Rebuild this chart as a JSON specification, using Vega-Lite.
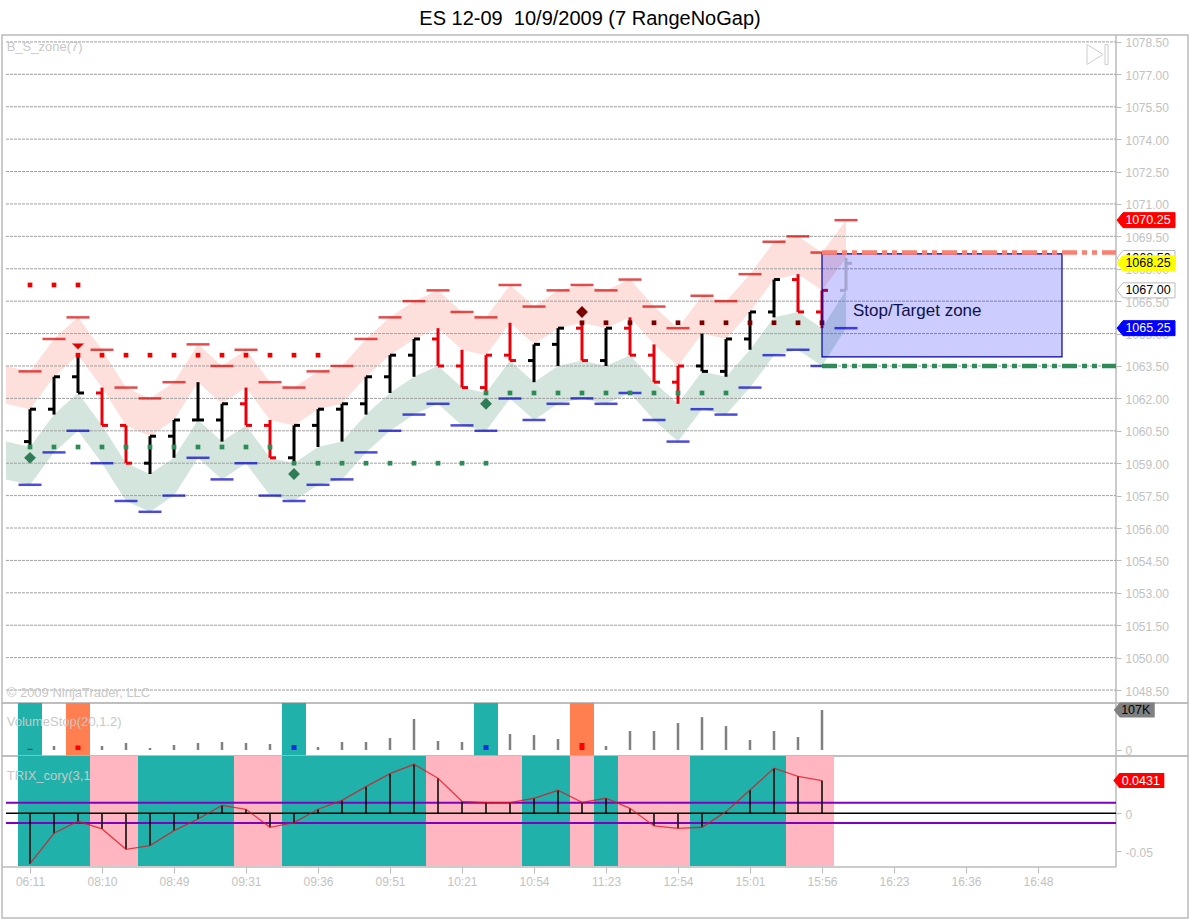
{
  "$schema": "https://vega.github.io/schema/vega-lite/v6.json",
  "title": {"text": "ES 12-09 \u00a010/9/2009 (7 RangeNoGap)", "fontSize": 20, "fontWeight": "normal", "font": "Liberation Sans", "color": "#000000", "anchor": "middle", "frame": "group", "offset": 5, "dx": -5},
  "background": "white",
  "padding": {"left": 0, "top": 8, "right": 0, "bottom": 0},
  "spacing": 0,
  "bounds": "flush",
  "config": {
    "font": "Liberation Sans",
    "view": {"stroke": "#bbbbbb", "strokeWidth": 1.5},
    "axis": {"title": null, "grid": false, "domain": false, "tickColor": "#bbbbbb", "labelColor": "#c2c2c2", "labelFontSize": 12, "labelFont": "Liberation Sans", "labelOverlap": false, "labelFlush": false, "labelBound": false}
  },
  "datasets": {
    "bars": [
      {"i": 0, "open": 1060, "high": 1061.5, "low": 1059.75, "close": 1061.5, "upper": 1063.25, "lower": 1058, "side": "up"},
      {"i": 1, "open": 1061.5, "high": 1063, "low": 1061.25, "close": 1063, "upper": 1064.75, "lower": 1059.5, "side": "up"},
      {"i": 2, "open": 1063, "high": 1064, "low": 1062.25, "close": 1062.25, "upper": 1065.75, "lower": 1060.5, "side": "up"},
      {"i": 3, "open": 1062.25, "high": 1062.5, "low": 1060.75, "close": 1060.75, "upper": 1064.25, "lower": 1059, "side": "down"},
      {"i": 4, "open": 1060.75, "high": 1060.75, "low": 1059, "close": 1059, "upper": 1062.5, "lower": 1057.25, "side": "down"},
      {"i": 5, "open": 1059, "high": 1060.25, "low": 1058.5, "close": 1060.25, "upper": 1062, "lower": 1056.75, "side": "up"},
      {"i": 6, "open": 1060.25, "high": 1061, "low": 1059.25, "close": 1061, "upper": 1062.75, "lower": 1057.5, "side": "up"},
      {"i": 7, "open": 1061, "high": 1062.75, "low": 1061, "close": 1061, "upper": 1064.5, "lower": 1059.25, "side": "up"},
      {"i": 8, "open": 1061, "high": 1061.75, "low": 1060, "close": 1061.75, "upper": 1063.5, "lower": 1058.25, "side": "up"},
      {"i": 9, "open": 1061.75, "high": 1062.5, "low": 1060.75, "close": 1060.75, "upper": 1064.25, "lower": 1059, "side": "down"},
      {"i": 10, "open": 1060.75, "high": 1061, "low": 1059.25, "close": 1059.25, "upper": 1062.75, "lower": 1057.5, "side": "down"},
      {"i": 11, "open": 1059.25, "high": 1060.75, "low": 1059, "close": 1060.75, "upper": 1062.5, "lower": 1057.25, "side": "up"},
      {"i": 12, "open": 1060.75, "high": 1061.5, "low": 1059.75, "close": 1061.5, "upper": 1063.25, "lower": 1058, "side": "up"},
      {"i": 13, "open": 1061.5, "high": 1061.75, "low": 1060, "close": 1061.75, "upper": 1063.5, "lower": 1058.25, "side": "up"},
      {"i": 14, "open": 1061.75, "high": 1063, "low": 1061.25, "close": 1063, "upper": 1064.75, "lower": 1059.5, "side": "up"},
      {"i": 15, "open": 1063, "high": 1064, "low": 1062.25, "close": 1064, "upper": 1065.75, "lower": 1060.5, "side": "up"},
      {"i": 16, "open": 1064, "high": 1064.75, "low": 1063, "close": 1064.75, "upper": 1066.5, "lower": 1061.25, "side": "up"},
      {"i": 17, "open": 1064.75, "high": 1065.25, "low": 1063.5, "close": 1063.5, "upper": 1067, "lower": 1061.75, "side": "down"},
      {"i": 18, "open": 1063.5, "high": 1064.25, "low": 1062.5, "close": 1062.5, "upper": 1066, "lower": 1060.75, "side": "down"},
      {"i": 19, "open": 1062.5, "high": 1064, "low": 1062.25, "close": 1064, "upper": 1065.75, "lower": 1060.5, "side": "down"},
      {"i": 20, "open": 1064, "high": 1065.5, "low": 1063.75, "close": 1063.75, "upper": 1067.25, "lower": 1062, "side": "down"},
      {"i": 21, "open": 1063.75, "high": 1064.5, "low": 1062.75, "close": 1064.5, "upper": 1066.25, "lower": 1061, "side": "up"},
      {"i": 22, "open": 1064.5, "high": 1065.25, "low": 1063.5, "close": 1065.25, "upper": 1067, "lower": 1061.75, "side": "up"},
      {"i": 23, "open": 1065.25, "high": 1065.5, "low": 1063.75, "close": 1063.75, "upper": 1067.25, "lower": 1062, "side": "down"},
      {"i": 24, "open": 1063.75, "high": 1065.25, "low": 1063.5, "close": 1065.25, "upper": 1067, "lower": 1061.75, "side": "up"},
      {"i": 25, "open": 1065.25, "high": 1065.75, "low": 1064, "close": 1064, "upper": 1067.5, "lower": 1062.25, "side": "down"},
      {"i": 26, "open": 1064, "high": 1064.5, "low": 1062.75, "close": 1062.75, "upper": 1066.25, "lower": 1061, "side": "down"},
      {"i": 27, "open": 1062.75, "high": 1063.5, "low": 1061.75, "close": 1063.5, "upper": 1065.25, "lower": 1060, "side": "down"},
      {"i": 28, "open": 1063.5, "high": 1065, "low": 1063.25, "close": 1063.25, "upper": 1066.75, "lower": 1061.5, "side": "up"},
      {"i": 29, "open": 1063.25, "high": 1064.75, "low": 1063, "close": 1064.75, "upper": 1066.5, "lower": 1061.25, "side": "up"},
      {"i": 30, "open": 1064.75, "high": 1066, "low": 1064.25, "close": 1066, "upper": 1067.75, "lower": 1062.5, "side": "up"},
      {"i": 31, "open": 1066, "high": 1067.5, "low": 1065.75, "close": 1067.5, "upper": 1069.25, "lower": 1064, "side": "up"},
      {"i": 32, "open": 1067.5, "high": 1067.75, "low": 1066, "close": 1066, "upper": 1069.5, "lower": 1064.25, "side": "down"},
      {"i": 33, "open": 1066, "high": 1067, "low": 1065.25, "close": 1067, "upper": 1068.75, "lower": 1063.5, "side": "down"},
      {"i": 34, "open": 1067, "high": 1068.5, "low": 1067, "close": 1068.25, "upper": 1070.25, "lower": 1065.25, "side": "live"}
    ],
    "bands": [
      {"i": -1, "upper": 1063.5, "high": 1061.75, "low": 1060, "lower": 1058.25},
      {"i": 0, "upper": 1063.25, "high": 1061.5, "low": 1059.75, "lower": 1058},
      {"i": 1, "upper": 1064.75, "high": 1063, "low": 1061.25, "lower": 1059.5},
      {"i": 2, "upper": 1065.75, "high": 1064, "low": 1062.25, "lower": 1060.5},
      {"i": 3, "upper": 1064.25, "high": 1062.5, "low": 1060.75, "lower": 1059},
      {"i": 4, "upper": 1062.5, "high": 1060.75, "low": 1059, "lower": 1057.25},
      {"i": 5, "upper": 1062, "high": 1060.25, "low": 1058.5, "lower": 1056.75},
      {"i": 6, "upper": 1062.75, "high": 1061, "low": 1059.25, "lower": 1057.5},
      {"i": 7, "upper": 1064.5, "high": 1062.75, "low": 1061, "lower": 1059.25},
      {"i": 8, "upper": 1063.5, "high": 1061.75, "low": 1060, "lower": 1058.25},
      {"i": 9, "upper": 1064.25, "high": 1062.5, "low": 1060.75, "lower": 1059},
      {"i": 10, "upper": 1062.75, "high": 1061, "low": 1059.25, "lower": 1057.5},
      {"i": 11, "upper": 1062.5, "high": 1060.75, "low": 1059, "lower": 1057.25},
      {"i": 12, "upper": 1063.25, "high": 1061.5, "low": 1059.75, "lower": 1058},
      {"i": 13, "upper": 1063.5, "high": 1061.75, "low": 1060, "lower": 1058.25},
      {"i": 14, "upper": 1064.75, "high": 1063, "low": 1061.25, "lower": 1059.5},
      {"i": 15, "upper": 1065.75, "high": 1064, "low": 1062.25, "lower": 1060.5},
      {"i": 16, "upper": 1066.5, "high": 1064.75, "low": 1063, "lower": 1061.25},
      {"i": 17, "upper": 1067, "high": 1065.25, "low": 1063.5, "lower": 1061.75},
      {"i": 18, "upper": 1066, "high": 1064.25, "low": 1062.5, "lower": 1060.75},
      {"i": 19, "upper": 1065.75, "high": 1064, "low": 1062.25, "lower": 1060.5},
      {"i": 20, "upper": 1067.25, "high": 1065.5, "low": 1063.75, "lower": 1062},
      {"i": 21, "upper": 1066.25, "high": 1064.5, "low": 1062.75, "lower": 1061},
      {"i": 22, "upper": 1067, "high": 1065.25, "low": 1063.5, "lower": 1061.75},
      {"i": 23, "upper": 1067.25, "high": 1065.5, "low": 1063.75, "lower": 1062},
      {"i": 24, "upper": 1067, "high": 1065.25, "low": 1063.5, "lower": 1061.75},
      {"i": 25, "upper": 1067.5, "high": 1065.75, "low": 1064, "lower": 1062.25},
      {"i": 26, "upper": 1066.25, "high": 1064.5, "low": 1062.75, "lower": 1061},
      {"i": 27, "upper": 1065.25, "high": 1063.5, "low": 1061.75, "lower": 1060},
      {"i": 28, "upper": 1066.75, "high": 1065, "low": 1063.25, "lower": 1061.5},
      {"i": 29, "upper": 1066.5, "high": 1064.75, "low": 1063, "lower": 1061.25},
      {"i": 30, "upper": 1067.75, "high": 1066, "low": 1064.25, "lower": 1062.5},
      {"i": 31, "upper": 1069.25, "high": 1067.5, "low": 1065.75, "lower": 1064},
      {"i": 32, "upper": 1069.5, "high": 1067.75, "low": 1066, "lower": 1064.25},
      {"i": 33, "upper": 1068.75, "high": 1067, "low": 1065.25, "lower": 1063.5},
      {"i": 34, "upper": 1070.25, "high": 1068.5, "low": 1067, "lower": 1065.25}
    ],
    "grid": [
      {"price": 1078.5}, {"price": 1077}, {"price": 1075.5}, {"price": 1074}, {"price": 1072.5}, {"price": 1071}, {"price": 1069.5},
      {"price": 1068}, {"price": 1066.5}, {"price": 1065}, {"price": 1063.5}, {"price": 1062}, {"price": 1060.5}, {"price": 1059},
      {"price": 1057.5}, {"price": 1056}, {"price": 1054.5}, {"price": 1053}, {"price": 1051.5}, {"price": 1050}, {"price": 1048.5}
    ],
    "dots": [
      {"i": 0, "price": 1067.25, "kind": "sell"}, {"i": 1, "price": 1067.25, "kind": "sell"}, {"i": 2, "price": 1067.25, "kind": "sell"},
      {"i": 2, "price": 1064, "kind": "sell"}, {"i": 3, "price": 1064, "kind": "sell"}, {"i": 4, "price": 1064, "kind": "sell"},
      {"i": 5, "price": 1064, "kind": "sell"}, {"i": 6, "price": 1064, "kind": "sell"}, {"i": 7, "price": 1064, "kind": "sell"},
      {"i": 8, "price": 1064, "kind": "sell"}, {"i": 9, "price": 1064, "kind": "sell"}, {"i": 10, "price": 1064, "kind": "sell"},
      {"i": 11, "price": 1064, "kind": "sell"}, {"i": 12, "price": 1064, "kind": "sell"},
      {"i": 23, "price": 1065.5, "kind": "sellOld"}, {"i": 24, "price": 1065.5, "kind": "sellOld"}, {"i": 25, "price": 1065.5, "kind": "sellOld"},
      {"i": 26, "price": 1065.5, "kind": "sellOld"}, {"i": 27, "price": 1065.5, "kind": "sellOld"}, {"i": 28, "price": 1065.5, "kind": "sellOld"},
      {"i": 29, "price": 1065.5, "kind": "sellOld"}, {"i": 30, "price": 1065.5, "kind": "sellOld"}, {"i": 31, "price": 1065.5, "kind": "sellOld"},
      {"i": 32, "price": 1065.5, "kind": "sellOld"}, {"i": 33, "price": 1065.5, "kind": "sellOld"},
      {"i": 0, "price": 1059.75, "kind": "buy"}, {"i": 1, "price": 1059.75, "kind": "buy"}, {"i": 2, "price": 1059.75, "kind": "buy"},
      {"i": 3, "price": 1059.75, "kind": "buy"}, {"i": 4, "price": 1059.75, "kind": "buy"}, {"i": 5, "price": 1059.75, "kind": "buy"},
      {"i": 6, "price": 1059.75, "kind": "buy"}, {"i": 7, "price": 1059.75, "kind": "buy"}, {"i": 8, "price": 1059.75, "kind": "buy"},
      {"i": 9, "price": 1059.75, "kind": "buy"}, {"i": 10, "price": 1059.75, "kind": "buy"},
      {"i": 11, "price": 1059, "kind": "buy"}, {"i": 12, "price": 1059, "kind": "buy"}, {"i": 13, "price": 1059, "kind": "buy"},
      {"i": 14, "price": 1059, "kind": "buy"}, {"i": 15, "price": 1059, "kind": "buy"}, {"i": 16, "price": 1059, "kind": "buy"},
      {"i": 17, "price": 1059, "kind": "buy"}, {"i": 18, "price": 1059, "kind": "buy"}, {"i": 19, "price": 1059, "kind": "buy"},
      {"i": 19, "price": 1062.25, "kind": "buy"}, {"i": 20, "price": 1062.25, "kind": "buy"}, {"i": 21, "price": 1062.25, "kind": "buy"},
      {"i": 22, "price": 1062.25, "kind": "buy"}, {"i": 23, "price": 1062.25, "kind": "buy"}, {"i": 24, "price": 1062.25, "kind": "buy"},
      {"i": 25, "price": 1062.25, "kind": "buy"}, {"i": 26, "price": 1062.25, "kind": "buy"}, {"i": 27, "price": 1062.25, "kind": "buy"},
      {"i": 28, "price": 1062.25, "kind": "buy"}, {"i": 29, "price": 1062.25, "kind": "buy"}
    ],
    "signals": [
      {"i": 0, "price": 1059.25, "kind": "buy"},
      {"i": 11, "price": 1058.5, "kind": "buy"},
      {"i": 19, "price": 1061.75, "kind": "buy"},
      {"i": 23, "price": 1066, "kind": "sell"}
    ],
    "arrow": [{"i": 2, "price": 1064.4}],
    "zone": [{"from": 33, "to": 43, "top": 1068.69, "bottom": 1063.92, "label": "Stop/Target zone"}],
    "levels": [
      {"from": 33, "to": 45.25, "price": 1068.75, "kind": "stop"},
      {"from": 33, "to": 45.25, "price": 1063.5, "kind": "target"}
    ],
    "tagsBack": [
      {"price": 1068.5, "label": "1068.50", "kind": "plain"}
    ],
    "tags": [
      {"price": 1070.25, "label": "1070.25", "kind": "high"},
      {"price": 1068.25, "label": "1068.25", "kind": "last"},
      {"price": 1067, "label": "1067.00", "kind": "plain"},
      {"price": 1065.25, "label": "1065.25", "kind": "low"}
    ],
    "volume": [
      {"i": 0, "vol": 3, "flag": "buy"}, {"i": 1, "vol": 10.7, "flag": "none"}, {"i": 2, "vol": 12, "flag": "sell"},
      {"i": 3, "vol": 10.7, "flag": "none"}, {"i": 4, "vol": 18.7, "flag": "none"}, {"i": 5, "vol": 5.4, "flag": "none"},
      {"i": 6, "vol": 13.4, "flag": "none"}, {"i": 7, "vol": 18.7, "flag": "none"}, {"i": 8, "vol": 21.4, "flag": "none"},
      {"i": 9, "vol": 18.7, "flag": "none"}, {"i": 10, "vol": 16, "flag": "none"}, {"i": 11, "vol": 13.4, "flag": "buy"},
      {"i": 12, "vol": 8, "flag": "none"}, {"i": 13, "vol": 21.4, "flag": "none"}, {"i": 14, "vol": 21.4, "flag": "none"},
      {"i": 15, "vol": 32, "flag": "none"}, {"i": 16, "vol": 83, "flag": "none"}, {"i": 17, "vol": 24, "flag": "none"},
      {"i": 18, "vol": 21.4, "flag": "none"}, {"i": 19, "vol": 13.4, "flag": "buy"}, {"i": 20, "vol": 42.8, "flag": "none"},
      {"i": 21, "vol": 40, "flag": "none"}, {"i": 22, "vol": 29.4, "flag": "none"}, {"i": 23, "vol": 18.7, "flag": "sell"},
      {"i": 24, "vol": 10.7, "flag": "none"}, {"i": 25, "vol": 50.8, "flag": "none"}, {"i": 26, "vol": 50.8, "flag": "none"},
      {"i": 27, "vol": 72, "flag": "none"}, {"i": 28, "vol": 88, "flag": "none"}, {"i": 29, "vol": 64, "flag": "none"},
      {"i": 30, "vol": 26.8, "flag": "none"}, {"i": 31, "vol": 50.8, "flag": "none"}, {"i": 32, "vol": 34.8, "flag": "none"},
      {"i": 33, "vol": 107, "flag": "none"}
    ],
    "volumeSpans": [
      {"from": -0.5, "to": 0.5, "state": "buy"},
      {"from": 1.5, "to": 2.5, "state": "sell"},
      {"from": 10.5, "to": 11.5, "state": "buy"},
      {"from": 18.5, "to": 19.5, "state": "buy"},
      {"from": 22.5, "to": 23.5, "state": "sell"}
    ],
    "trix": [
      {"i": 0, "trix": -0.0663}, {"i": 1, "trix": -0.0263}, {"i": 2, "trix": -0.0105}, {"i": 3, "trix": -0.0206},
      {"i": 4, "trix": -0.0474}, {"i": 5, "trix": -0.0426}, {"i": 6, "trix": -0.0228}, {"i": 7, "trix": -0.0075},
      {"i": 8, "trix": 0.0105}, {"i": 9, "trix": 0.0053}, {"i": 10, "trix": -0.0184}, {"i": 11, "trix": -0.0123},
      {"i": 12, "trix": 0.0053}, {"i": 13, "trix": 0.0171}, {"i": 14, "trix": 0.0351}, {"i": 15, "trix": 0.0522},
      {"i": 16, "trix": 0.0645}, {"i": 17, "trix": 0.0461}, {"i": 18, "trix": 0.0158}, {"i": 19, "trix": 0.014},
      {"i": 20, "trix": 0.014}, {"i": 21, "trix": 0.0198}, {"i": 22, "trix": 0.0303}, {"i": 23, "trix": 0.0145},
      {"i": 24, "trix": 0.0198}, {"i": 25, "trix": 0.0066}, {"i": 26, "trix": -0.0167}, {"i": 27, "trix": -0.0198},
      {"i": 28, "trix": -0.0184}, {"i": 29, "trix": 0.0022}, {"i": 30, "trix": 0.0307}, {"i": 31, "trix": 0.0593},
      {"i": 32, "trix": 0.0487}, {"i": 33, "trix": 0.0431}
    ],
    "trixSpans": [
      {"from": -0.5, "to": 2.5, "state": "rising"},
      {"from": 2.5, "to": 4.5, "state": "falling"},
      {"from": 4.5, "to": 8.5, "state": "rising"},
      {"from": 8.5, "to": 10.5, "state": "falling"},
      {"from": 10.5, "to": 16.5, "state": "rising"},
      {"from": 16.5, "to": 20.5, "state": "falling"},
      {"from": 20.5, "to": 22.5, "state": "rising"},
      {"from": 22.5, "to": 23.5, "state": "falling"},
      {"from": 23.5, "to": 24.5, "state": "rising"},
      {"from": 24.5, "to": 27.5, "state": "falling"},
      {"from": 27.5, "to": 31.5, "state": "rising"},
      {"from": 31.5, "to": 33.5, "state": "falling"}
    ],
    "trixBands": [{"value": 0.014}, {"value": -0.0128}],
    "trixZero": [{"value": 0}],
    "edge": [{"top": 0.0754, "bottom": -0.0707}]
  },
  "vconcat": [
    {
      "width": 1186,
      "height": 668,
      "resolve": {"scale": {"color": "independent", "fill": "independent", "stroke": "independent"}},
      "encoding": {
        "x": {"type": "quantitative", "axis": null, "scale": {"domain": [-1.1667, 48.25], "nice": false, "zero": false}},
        "y": {"type": "quantitative", "scale": {"domain": [1047.9, 1078.82], "nice": false, "zero": false},
          "axis": {"orient": "right", "offset": -72, "tickSize": 5, "labelPadding": 4, "labelOffset": 1, "format": ".2f",
            "values": [1078.5, 1077, 1075.5, 1074, 1072.5, 1071, 1069.5, 1068, 1066.5, 1065, 1063.5, 1062, 1060.5, 1059, 1057.5, 1056, 1054.5, 1053, 1051.5, 1050, 1048.5]}}
      },
      "layer": [
        {
          "data": {"name": "edge"},
          "mark": {"type": "rule", "color": "#bbbbbb", "strokeWidth": 1.5},
          "encoding": {"x": {"datum": 45.25}, "y": null}
        },
        {
          "data": {"name": "bands"},
          "mark": {"type": "area", "color": "#fde0dc", "opacity": 1},
          "encoding": {"x": {"field": "i"}, "y": {"field": "upper"}, "y2": {"field": "high"}}
        },
        {
          "data": {"name": "bands"},
          "mark": {"type": "area", "color": "#d3e5dc", "opacity": 1},
          "encoding": {"x": {"field": "i"}, "y": {"field": "low"}, "y2": {"field": "lower"}}
        },
        {
          "data": {"name": "grid"},
          "mark": {"type": "rule", "color": "#a0a0a0", "strokeWidth": 1, "strokeDash": [3, 1]},
          "encoding": {"x": {"datum": -1}, "x2": {"datum": 45.25}, "y": {"field": "price"}}
        },
        {
          "data": {"name": "bars"},
          "mark": {"type": "tick", "orient": "horizontal", "size": 23, "thickness": 2.5, "color": "#d80000"},
          "encoding": {"x": {"field": "i"}, "y": {"field": "upper"}}
        },
        {
          "data": {"name": "bars"},
          "mark": {"type": "tick", "orient": "horizontal", "size": 23, "thickness": 2.5, "color": "#0000c8"},
          "encoding": {"x": {"field": "i"}, "y": {"field": "lower"}}
        },
        {
          "data": {"name": "bars"},
          "mark": {"type": "rule", "strokeWidth": 3},
          "encoding": {
            "x": {"field": "i"},
            "y": {"field": "high"},
            "y2": {"field": "low"},
            "color": {"field": "side", "type": "nominal", "legend": null, "scale": {"domain": ["up", "down", "live"], "range": ["#000000", "#e8000b", "#cecec0"]}}
          }
        },
        {
          "data": {"name": "bars"},
          "mark": {"type": "rule", "strokeWidth": 3, "x2Offset": -6},
          "encoding": {
            "x": {"field": "i"},
            "x2": {"field": "i"},
            "y": {"field": "open"},
            "color": {"field": "side", "type": "nominal", "legend": null, "scale": {"domain": ["up", "down", "live"], "range": ["#000000", "#e8000b", "#cecec0"]}}
          }
        },
        {
          "data": {"name": "bars"},
          "mark": {"type": "rule", "strokeWidth": 3, "x2Offset": 6},
          "encoding": {
            "x": {"field": "i"},
            "x2": {"field": "i"},
            "y": {"field": "close"},
            "color": {"field": "side", "type": "nominal", "legend": null, "scale": {"domain": ["up", "down", "live"], "range": ["#000000", "#e8000b", "#cecec0"]}}
          }
        },
        {
          "data": {"name": "dots"},
          "mark": {"type": "point", "shape": "square", "filled": true, "size": 22, "opacity": 1},
          "encoding": {
            "x": {"field": "i"},
            "y": {"field": "price"},
            "color": {"field": "kind", "type": "nominal", "legend": null, "scale": {"domain": ["sell", "sellOld", "buy"], "range": ["#f00000", "#7a0000", "#2e8b57"]}}
          }
        },
        {
          "data": {"name": "signals"},
          "mark": {"type": "point", "shape": "diamond", "filled": true, "size": 140, "opacity": 1},
          "encoding": {
            "x": {"field": "i"},
            "y": {"field": "price"},
            "color": {"field": "kind", "type": "nominal", "legend": null, "scale": {"domain": ["buy", "sell"], "range": ["#2e7d57", "#7a0000"]}}
          }
        },
        {
          "data": {"name": "arrow"},
          "mark": {"type": "point", "shape": "M-6,-3H6L0,3Z", "filled": true, "size": 4, "opacity": 1, "fill": "#e00000", "stroke": "#999999", "strokeWidth": 0.5},
          "encoding": {"x": {"field": "i"}, "y": {"field": "price"}}
        },
        {
          "data": {"name": "zone"},
          "mark": {"type": "rect", "fill": "#0000ff", "fillOpacity": 0.2, "stroke": "#0000a0", "strokeWidth": 1.2},
          "encoding": {
            "x": {"field": "from"},
            "x2": {"field": "to"},
            "y": {"field": "top"},
            "y2": {"field": "bottom"}
          }
        },
        {
          "data": {"name": "levels"},
          "mark": {"type": "rule", "strokeWidth": 4.5, "strokeDash": [15, 5, 5, 5, 5, 5]},
          "encoding": {
            "x": {"field": "from"},
            "x2": {"field": "to"},
            "y": {"field": "price"},
            "color": {"field": "kind", "type": "nominal", "legend": null, "scale": {"domain": ["stop", "target"], "range": ["#fa8072", "#2e8b57"]}}
          }
        },
        {
          "data": {"name": "zone"},
          "mark": {"type": "text", "align": "left", "baseline": "middle", "fontSize": 17, "color": "#10104a"},
          "encoding": {
            "x": {"datum": 34.29},
            "y": {"datum": 1066.05},
            "text": {"field": "label"}
          }
        },
        {
          "data": {"values": [{"label": "B_S_zone(7)", "price": 1078.27}, {"label": "© 2009 NinjaTrader, LLC", "price": 1048.38}]},
          "mark": {"type": "text", "align": "left", "baseline": "middle", "fontSize": 13, "color": "#c8c8c8"},
          "encoding": {
            "x": {"datum": -0.97},
            "y": {"field": "price"},
            "text": {"field": "label"}
          }
        },
        {
          "data": {"values": [{"price": 1077.92}]},
          "mark": {"type": "point", "shape": "M-10,-10L6,0L-10,10ZM8,-10H11V10H8Z", "size": 4, "filled": false, "opacity": 1, "stroke": "#cccccc", "strokeWidth": 1},
          "encoding": {"x": {"datum": 44.46}, "y": {"field": "price"}}
        },
        {
          "data": {"name": "tagsBack"},
          "mark": {"type": "point", "shape": "M-29,0L-23,-7.5H29V7.5H-23Z", "size": 4, "filled": true, "opacity": 1, "strokeWidth": 1, "fill": "#ffffff", "stroke": "#bbbbbb"},
          "encoding": {"x": {"datum": 46.5}, "y": {"field": "price"}}
        },
        {
          "data": {"name": "tagsBack"},
          "mark": {"type": "text", "fontSize": 12.5, "align": "center", "baseline": "middle", "dx": 2, "color": "#000000"},
          "encoding": {"x": {"datum": 46.5}, "y": {"field": "price"}, "text": {"field": "label"}}
        },
        {
          "data": {"name": "tags"},
          "mark": {"type": "point", "shape": "M-29,0L-23,-7.5H29V7.5H-23Z", "size": 4, "filled": true, "opacity": 1, "strokeWidth": 1},
          "encoding": {
            "x": {"datum": 46.5},
            "y": {"field": "price"},
            "fill": {"field": "kind", "type": "nominal", "legend": null, "scale": {"domain": ["high", "plain", "last", "low"], "range": ["#ff0000", "#ffffff", "#ffff00", "#0000ff"]}},
            "stroke": {"field": "kind", "type": "nominal", "legend": null, "scale": {"domain": ["high", "plain", "last", "low"], "range": ["#ff0000", "#bbbbbb", "#ffff00", "#0000ff"]}}
          }
        },
        {
          "data": {"name": "tags"},
          "mark": {"type": "text", "fontSize": 12.5, "align": "center", "baseline": "middle", "dx": 2},
          "encoding": {
            "x": {"datum": 46.5},
            "y": {"field": "price"},
            "text": {"field": "label"},
            "color": {"field": "kind", "type": "nominal", "legend": null, "scale": {"domain": ["high", "plain", "last", "low"], "range": ["#ffffff", "#000000", "#000000", "#ffffff"]}}
          }
        }
      ]
    },
    {
      "width": 1186,
      "height": 53,
      "resolve": {"scale": {"color": "independent"}},
      "encoding": {
        "x": {"type": "quantitative", "axis": null, "scale": {"domain": [-1.1667, 48.25], "nice": false, "zero": false}},
        "y": {"type": "quantitative", "scale": {"domain": [-16.05, 125.7], "nice": false, "zero": false},
          "axis": {"orient": "right", "offset": -72, "tickSize": 5, "labelPadding": 4, "labelOffset": 1, "values": [0]}}
      },
      "layer": [
        {
          "data": {"name": "edge"},
          "mark": {"type": "rule", "color": "#bbbbbb", "strokeWidth": 1.5},
          "encoding": {"x": {"datum": 45.25}, "y": null}
        },
        {
          "data": {"name": "volumeSpans"},
          "mark": {"type": "rect"},
          "encoding": {
            "x": {"field": "from"},
            "x2": {"field": "to"},
            "y": null,
            "color": {"field": "state", "type": "nominal", "legend": null, "scale": {"domain": ["buy", "sell"], "range": ["#20b2aa", "#ff7f50"]}}
          }
        },
        {
          "data": {"name": "volume"},
          "transform": [{"filter": "datum.flag == 'none'"}],
          "mark": {"type": "rule", "strokeWidth": 2.5, "color": "#808080"},
          "encoding": {"x": {"field": "i"}, "y": {"field": "vol"}, "y2": {"datum": 0}}
        },
        {
          "data": {"name": "volume"},
          "transform": [{"filter": "datum.flag != 'none'"}],
          "mark": {"type": "rule", "strokeWidth": 5},
          "encoding": {
            "x": {"field": "i"},
            "y": {"field": "vol"},
            "y2": {"datum": 0},
            "color": {"field": "flag", "type": "nominal", "legend": null, "scale": {"domain": ["buy", "sell"], "range": ["#0030e0", "#ff0000"]}}
          }
        },
        {
          "data": {"values": [{"label": "VolumeStop(20,1.2)", "vol": 74}]},
          "mark": {"type": "text", "align": "left", "baseline": "middle", "fontSize": 13, "color": "#c8c8c8"},
          "encoding": {"x": {"datum": -0.97}, "y": {"field": "vol"}, "text": {"field": "label"}}
        },
        {
          "data": {"values": [{"label": "107K", "vol": 107}]},
          "mark": {"type": "point", "shape": "M-20,0L-14,-7.5H21V7.5H-14Z", "size": 4, "filled": true, "opacity": 1, "color": "#808080"},
          "encoding": {"x": {"datum": 45.99}, "y": {"field": "vol"}}
        },
        {
          "data": {"values": [{"label": "107K", "vol": 107}]},
          "mark": {"type": "text", "fontSize": 12.5, "align": "center", "baseline": "middle", "dx": 2, "color": "#000000"},
          "encoding": {"x": {"datum": 45.99}, "y": {"field": "vol"}, "text": {"field": "label"}}
        }
      ]
    },
    {
      "width": 1186,
      "height": 162,
      "resolve": {"scale": {"color": "independent"}},
      "encoding": {
        "x": {"type": "quantitative", "scale": {"domain": [-1.1667, 48.25], "nice": false, "zero": false},
          "axis": {"orient": "bottom", "offset": -51, "tickSize": 6, "labelPadding": 3,
            "values": [0, 3, 6, 9, 12, 15, 18, 21, 24, 27, 30, 33, 36, 39, 42],
            "labelExpr": "['06:11','08:10','08:49','09:31','09:36','09:51','10:21','10:54','11:23','12:54','15:01','15:56','16:23','16:36','16:48'][datum.value/3]"}},
        "y": {"type": "quantitative", "scale": {"domain": [-0.1378, 0.0754], "nice": false, "zero": false},
          "axis": {"orient": "right", "offset": -72, "tickSize": 5, "labelPadding": 4, "labelOffset": 1, "values": [0, -0.05],
            "labelExpr": "datum.value == 0 ? '0' : '-0.05'"}}
      },
      "layer": [
        {
          "data": {"name": "trixSpans"},
          "mark": {"type": "rect"},
          "encoding": {
            "x": {"field": "from"},
            "x2": {"field": "to"},
            "y": {"datum": 0.0754},
            "y2": {"datum": -0.0695},
            "color": {"field": "state", "type": "nominal", "legend": null, "scale": {"domain": ["rising", "falling"], "range": ["#20b2aa", "#ffb6c1"]}}
          }
        },
        {
          "data": {"name": "edge"},
          "mark": {"type": "rule", "color": "#bbbbbb", "strokeWidth": 1.5},
          "encoding": {"x": {"datum": 45.25}, "y": {"field": "top"}, "y2": {"field": "bottom"}}
        },
        {
          "data": {"name": "edge"},
          "mark": {"type": "rule", "color": "#bbbbbb", "strokeWidth": 1.5},
          "encoding": {"x": {"datum": -1.1667}, "x2": {"datum": 45.25}, "y": {"field": "bottom"}}
        },
        {
          "data": {"name": "trixBands"},
          "mark": {"type": "rule", "strokeWidth": 2, "color": "#8000c0"},
          "encoding": {"x": {"datum": -1}, "x2": {"datum": 45.25}, "y": {"field": "value"}}
        },
        {
          "data": {"name": "trixZero"},
          "mark": {"type": "rule", "strokeWidth": 1.5, "color": "#000000"},
          "encoding": {"x": {"datum": -1}, "x2": {"datum": 45.25}, "y": {"field": "value"}}
        },
        {
          "data": {"name": "trix"},
          "mark": {"type": "rule", "color": "#000000", "strokeWidth": 1.5},
          "encoding": {"x": {"field": "i"}, "y": {"field": "trix"}, "y2": {"datum": 0}}
        },
        {
          "data": {"name": "trix"},
          "mark": {"type": "line", "color": "#e0101c", "strokeWidth": 1.3, "opacity": 0.75},
          "encoding": {"x": {"field": "i"}, "y": {"field": "trix"}}
        },
        {
          "data": {"values": [{"label": "TRIX_cory(3,1", "trix": 0.0495}]},
          "mark": {"type": "text", "align": "left", "baseline": "middle", "fontSize": 13, "color": "#c8c8c8"},
          "encoding": {"x": {"datum": -0.97}, "y": {"field": "trix"}, "text": {"field": "label"}}
        },
        {
          "data": {"values": [{"label": "0.0431", "trix": 0.0431}]},
          "mark": {"type": "point", "shape": "M-25.5,0L-19.5,-7.5H25.5V7.5H-19.5Z", "size": 4, "filled": true, "opacity": 1, "color": "#ff0000"},
          "encoding": {"x": {"datum": 46.2}, "y": {"field": "trix"}}
        },
        {
          "data": {"values": [{"label": "0.0431", "trix": 0.0431}]},
          "mark": {"type": "text", "fontSize": 12.5, "align": "center", "baseline": "middle", "dx": 2, "color": "#ffffff"},
          "encoding": {"x": {"datum": 46.2}, "y": {"field": "trix"}, "text": {"field": "label"}}
        }
      ]
    }
  ]
}
